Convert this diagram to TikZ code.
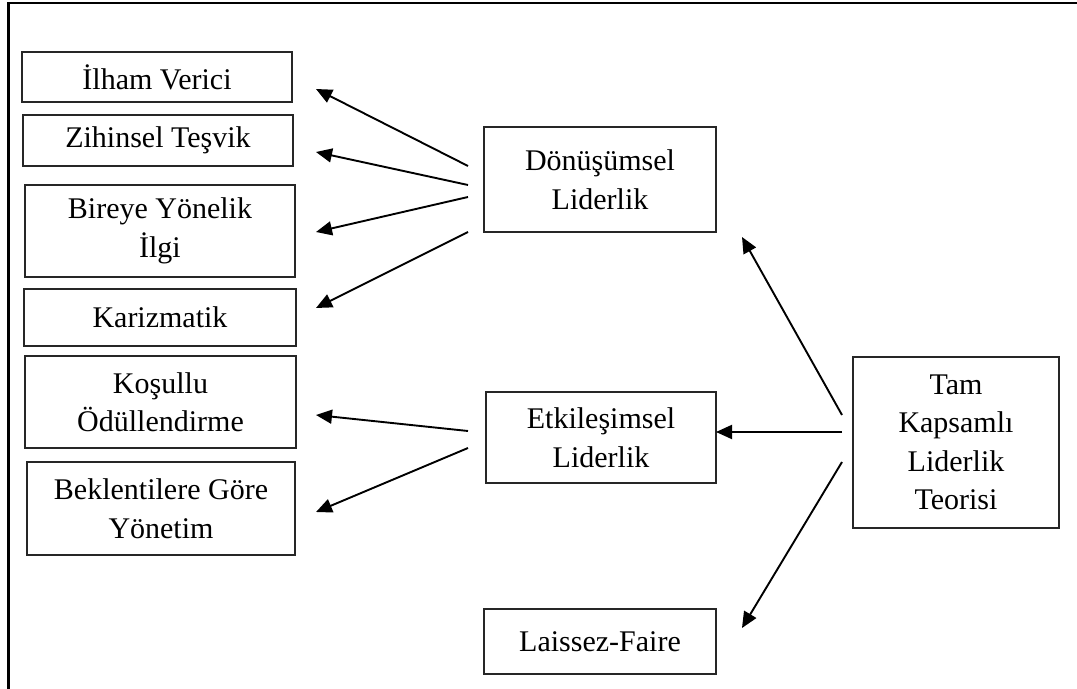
\documentclass[tikz,border=0pt]{standalone}
\usepackage{fontspec}
\setmainfont{Liberation Serif}
\usetikzlibrary{arrows.meta}
\begin{document}
\begin{tikzpicture}[x=0.5pt,y=-0.5pt,
  box/.style={draw=black!85, line width=0.6pt, align=center, inner sep=0pt,
              font=\fontsize{15}{19.25}\selectfont},
  link/.style={line width=0.95pt, -{Triangle[length=8pt,width=7pt]}},
  frame/.style={line width=1.2pt}]
\useasboundingbox (0,0) rectangle (1077,689);

% outer frame (top and left edges)
\draw[frame] (8.3,689) -- (8.3,3.3) -- (1077,3.3);

% left column: components
\node[box, minimum width=135pt, minimum height=25pt]   (ilham) at (157,77)    {İlham Verici};
\node[box, minimum width=135pt, minimum height=25.5pt] (zihin) at (158,140.5)  {Zihinsel Teşvik};
\node[box, minimum width=135pt, minimum height=46pt]   (birey) at (160,231)   {Bireye Yönelik\\İlgi};
\node[box, minimum width=136pt, minimum height=28.5pt] (kariz) at (160,317.5) {Karizmatik};
\node[box, minimum width=135.5pt, minimum height=46pt] (kosul) at (160.5,402) {Koşullu\\Ödüllendirme};
\node[box, minimum width=134pt, minimum height=46.5pt] (bekle) at (161,508.5) {Beklentilere Göre\\Yönetim};

% middle column: leadership styles
\node[box, minimum width=116pt, minimum height=52.5pt] (donus) at (600,179.5) {Dönüşümsel\\Liderlik};
\node[box, minimum width=115pt, minimum height=45.5pt] (etkil) at (601,437.5) {Etkileşimsel\\Liderlik};
\node[box, minimum width=116pt, minimum height=32.5pt] (laiss) at (600,641.5) {Laissez-Faire};

% right: the full range theory
\node[box, minimum width=103pt, minimum height=85.5pt] (tam) at (956,442.5) {Tam\\Kapsamlı\\Liderlik\\Teorisi};

% arrow end points
\coordinate (d1) at (468,166); \coordinate (i1) at (316,89);
\coordinate (d2) at (468,185); \coordinate (z1) at (316,152);
\coordinate (d3) at (468,197); \coordinate (b1) at (316,232);
\coordinate (d4) at (468,232); \coordinate (k1) at (316,308);
\coordinate (e1) at (468,431); \coordinate (o1) at (316,415);
\coordinate (e2) at (468,448); \coordinate (y1) at (316,512);
\coordinate (t1) at (842,415); \coordinate (dn) at (742,237);
\coordinate (t2) at (842,432); \coordinate (et) at (716,432);
\coordinate (t3) at (842,462); \coordinate (lf) at (742,628);

% connectors
\draw[link] (d1) -- (i1);
\draw[link] (d2) -- (z1);
\draw[link] (d3) -- (b1);
\draw[link] (d4) -- (k1);
\draw[link] (e1) -- (o1);
\draw[link] (e2) -- (y1);
\draw[link] (t1) -- (dn);
\draw[link] (t2) -- (et);
\draw[link] (t3) -- (lf);
\end{tikzpicture}
\end{document}
